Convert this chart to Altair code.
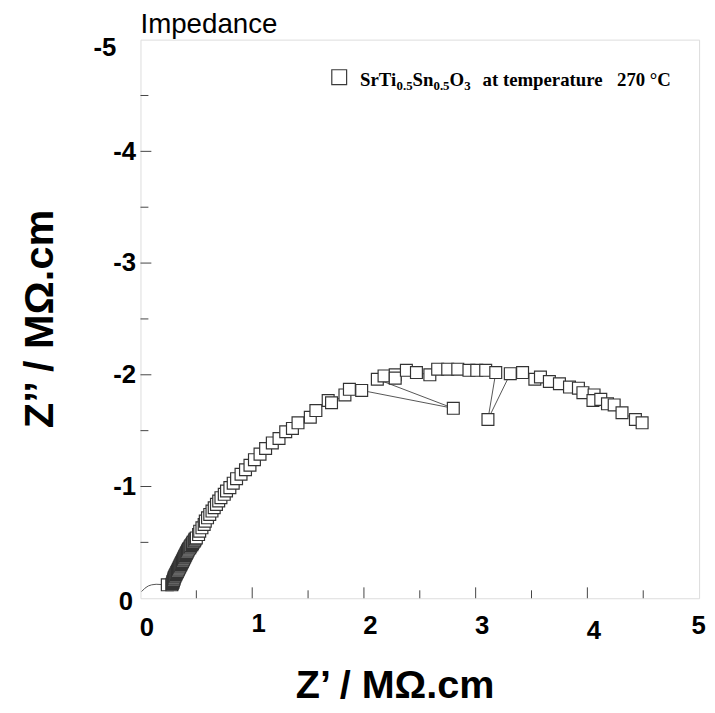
import altair as alt
import pandas as pd

# ---- data ----
START_RE = [0.01, 0.04, 0.07, 0.10, 0.14]
START_IM = [-0.06, -0.09, -0.11, -0.12, -0.125]

Z_RE = [0.24, 0.28, 0.285, 0.29, 0.29, 0.295, 0.30, 0.30, 0.305, 0.31, 0.315, 0.32, 0.325, 0.33,
        0.335, 0.34, 0.345, 0.35, 0.355, 0.36, 0.365, 0.37, 0.375, 0.38, 0.385, 0.39, 0.395,
        0.40, 0.405, 0.41, 0.415, 0.42, 0.425, 0.43, 0.44, 0.445, 0.45, 0.46, 0.465, 0.47,
        0.48, 0.485, 0.49, 0.50,
        0.52, 0.53, 0.55, 0.57, 0.58, 0.60, 0.62, 0.64, 0.66, 0.68, 0.70, 0.72, 0.75, 0.77, 0.80,
        0.83, 0.86, 0.90, 0.94, 0.98, 1.02, 1.07, 1.12, 1.18, 1.24, 1.30, 1.36, 1.41, 1.52,
        1.57, 1.68, 1.71, 1.83, 1.87, 1.98, 2.80, 2.12, 2.18, 2.28, 2.28, 2.38, 2.47, 2.59,
        2.66, 2.75, 2.84, 2.94, 3.01, 3.09, 3.18, 3.11, 3.31, 3.42, 3.53, 3.58, 3.66, 3.75,
        3.84, 3.92, 3.96, 4.06, 4.05, 4.12, 4.18, 4.24, 4.31, 4.43, 4.49]
Z_IM = [-0.12, -0.12, -0.13, -0.14, -0.15, -0.16, -0.17, -0.18, -0.19, -0.20, -0.21, -0.22, -0.23, -0.24,
        -0.25, -0.26, -0.27, -0.28, -0.29, -0.30, -0.31, -0.32, -0.33, -0.34, -0.35, -0.36, -0.37,
        -0.38, -0.39, -0.40, -0.41, -0.42, -0.43, -0.44, -0.45, -0.46, -0.47, -0.48, -0.49, -0.50,
        -0.51, -0.52, -0.53, -0.54,
        -0.57, -0.60, -0.63, -0.66, -0.69, -0.72, -0.75, -0.78, -0.81, -0.84, -0.87, -0.90, -0.93, -0.96, -0.99,
        -1.03, -1.07, -1.11, -1.15, -1.19, -1.24, -1.29, -1.34, -1.39, -1.43, -1.49, -1.52, -1.57, -1.62,
        -1.68, -1.77, -1.75, -1.82, -1.87, -1.86, -1.70, -1.96, -1.99, -2.00, -1.97, -2.04, -2.02, -2.00,
        -2.05, -2.05, -2.05, -2.04, -2.04, -2.04, -2.02, -1.60, -2.01, -2.02, -1.96, -1.98, -1.94, -1.92,
        -1.89, -1.88, -1.84, -1.82, -1.77, -1.78, -1.74, -1.73, -1.66, -1.60, -1.57]

X_LABELS = [0, 1, 2, 3, 4, 5]
Y_LABELS = [-5, -4, -3, -2, -1, 0]
X_MAJOR = [1, 2, 3, 4]
X_MINOR = [0.5, 1.5, 2.5, 3.5, 4.5]
Y_MAJOR = [-1, -2, -3, -4]
Y_MINOR = [-0.5, -1.5, -2.5, -3.5, -4.5]

W = H = 565
FONT = "Liberation Sans"
SERIF = "Liberation Serif"

df_line = pd.DataFrame({
    "re": START_RE + Z_RE,
    "im": START_IM + Z_IM,
})
df_line["idx"] = range(len(df_line))
df_pts = pd.DataFrame({"re": Z_RE, "im": Z_IM})

xs = alt.Scale(domain=[0, 5], nice=False, zero=False)
ys = alt.Scale(domain=[-5, 0], nice=False, zero=False, reverse=True)

x_axis = alt.Axis(values=X_LABELS, title="Z’ / MΩ.cm", grid=False, domain=False,
                  ticks=False, tickSize=0, labelFontSize=26, labelFontWeight="bold",
                  labelColor="black", labelFont=FONT, labelBaseline="alphabetic",
                  labelPadding=alt.expr("datum.value == 4 ? 41 : (datum.value == 0 ? 38 : (datum.value == 1 ? 34 : 36))"),
                  labelOffset=alt.expr("datum.value == 5 ? -1 : 6"),
                  labelFlush=False, labelOverlap=False,
                  titleFontSize=40, titleFontWeight="bold", titleFont=FONT, titleColor="black",
                  titleX=257, titleY=100, titleBaseline="alphabetic", titleAlign="center")
y_axis = alt.Axis(values=Y_LABELS, title="Z’’ / MΩ.cm", grid=False, domain=False,
                  ticks=False, tickSize=0, labelFontSize=26, labelFontWeight="bold",
                  labelColor="black", labelFont=FONT,
                  labelPadding=alt.expr("datum.value == -5 ? 25 : (datum.value == 0 ? 8 : 5)"),
                  labelExpr="'' + datum.value",
                  labelOffset=alt.expr("datum.value == -5 ? 8 : (datum.value == 0 ? 3 : 0)"),
                  labelFlush=False, labelOverlap=False,
                  titleFontSize=42, titleFontWeight="bold", titleFont=FONT, titleColor="black",
                  titleAngle=270, titleX=-89, titleY=282, titleBaseline="alphabetic",
                  titleAlign="center")

X = lambda f: alt.X(f, type="quantitative", scale=xs, axis=x_axis)
Y = lambda f: alt.Y(f, type="quantitative", scale=ys, axis=y_axis)

TICK_C = "#444"
xt_major = alt.Chart(pd.DataFrame({"re": X_MAJOR})).mark_rule(color=TICK_C, strokeWidth=1).encode(
    x=X("re"), y=alt.value(H), y2=alt.value(H - 11))
xt_minor = alt.Chart(pd.DataFrame({"re": X_MINOR})).mark_rule(color=TICK_C, strokeWidth=1).encode(
    x=X("re"), y=alt.value(H), y2=alt.value(H - 8))
yt_major = alt.Chart(pd.DataFrame({"im": Y_MAJOR})).mark_rule(color=TICK_C, strokeWidth=1).encode(
    y=Y("im"), x=alt.value(0), x2=alt.value(11))
yt_minor = alt.Chart(pd.DataFrame({"im": Y_MINOR})).mark_rule(color=TICK_C, strokeWidth=1).encode(
    y=Y("im"), x=alt.value(0), x2=alt.value(8))

line = alt.Chart(df_line).mark_line(color="#555", strokeWidth=1, interpolate="linear").encode(
    x=X("re"), y=Y("im"), order="idx:Q")
pts = alt.Chart(df_pts).mark_square(fill="white", stroke="#333", strokeWidth=1.2,
                                     size=144, opacity=1).encode(x=X("re"), y=Y("im"))

# ---- title + legend (drawn in pixels relative to the plot area) ----
one = pd.DataFrame({"a": [0]})
title = alt.Chart(one).mark_text(text="Impedance", font=FONT, fontSize=28, fontWeight="normal",
                                 align="left", baseline="alphabetic", color="black").encode(
    x=alt.value(0), y=alt.value(-7))

F, f = 19, 13
TB = {"S": 556, "r": 444, "T": 667, "i": 278, "n": 556, "O": 778, "0": 500, ".": 250,
      "5": 500, "3": 500}
def wid(s, size):
    return sum(TB[c] for c in s) * size / 1000.0

LX0, LBASE = 222, 47
pieces = [("SrTi", F, 0), ("0.5", f, 4), ("Sn", F, 0), ("0.5", f, 4), ("O", F, 0), ("3", f, 4)]
legend_layers = [
    alt.Chart(one).mark_square(fill="white", stroke="#3a3a3a", strokeWidth=1.2, size=225,
                               opacity=1).encode(x=alt.value(201), y=alt.value(38))
]
cx = LX0
for txt, size, dy in pieces:
    legend_layers.append(
        alt.Chart(one).mark_text(text=txt, font=SERIF, fontWeight="bold", fontSize=size,
                                 align="left", baseline="alphabetic", color="black").encode(
            x=alt.value(cx), y=alt.value(LBASE + dy)))
    cx += wid(txt, size)
legend_layers.append(
    alt.Chart(one).mark_text(text="at temperature", font=SERIF, fontWeight="bold", fontSize=F,
                             align="left", baseline="alphabetic", color="black").encode(
        x=alt.value(346), y=alt.value(LBASE)))
legend_layers.append(
    alt.Chart(one).mark_text(text="270 °C", font=SERIF, fontWeight="bold", fontSize=F,
                             align="left", baseline="alphabetic", color="black").encode(
        x=alt.value(482), y=alt.value(LBASE)))

chart = alt.layer(xt_major, xt_minor, yt_major, yt_minor, line, pts, title,
                  *legend_layers).properties(
    width=W, height=H,
    padding={"left": 134, "top": 28, "right": 8, "bottom": 104},
    autosize=alt.AutoSizeParams(type="none"),
).configure_view(stroke="#444", strokeWidth=1.5).configure(font=FONT)

chart.save("out.html", embed_options={"renderer": "svg", "actions": False})
